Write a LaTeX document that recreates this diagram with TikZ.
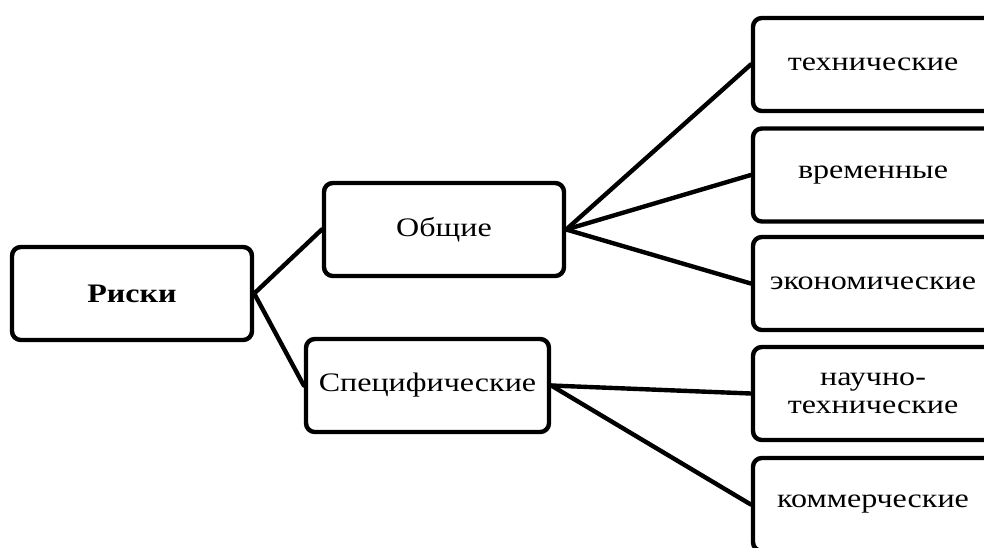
\documentclass[tikz,border=0pt]{standalone}
\usepackage{fontspec}
\setmainfont{Liberation Serif}
\newfontfamily\widefont[FakeStretch=1.2]{Liberation Serif}
\usepackage{tikz}

\tikzset{
  riskbox/.style={draw, line width=0.11cm, rounded corners=0.22cm,
    minimum width=240*0.025cm, minimum height=93*0.025cm, inner sep=0pt,
    align=center, font=\widefont\fontsize{19}{20}\selectfont},
  link/.style={line width=0.11cm}
}

\begin{document}
\begin{tikzpicture}[x=0.025cm, y=-0.025cm, line join=round, line cap=round]
      \clip (0,0) rectangle (984,547);
      \def\rx{873}
      % left and middle column
      \node[riskbox, font=\widefont\fontsize{19}{20}\selectfont\bfseries] (risks) at (132,293.5) {Риски};
      \node[riskbox] (common) at (444,229.5) {Общие};
      \node[riskbox, minimum width=243*0.025cm] (specific) at (427.5,385.5) {Специфические};
      % right column
      \node[riskbox] (tech) at (\rx,64.5) {технические};
      \node[riskbox] (time) at (\rx,175) {временные};
      \node[riskbox] (econ) at (\rx,283.5) {экономические};
      \node[riskbox] (sci) at (\rx,393.5) {научно-\\технические};
      \node[riskbox] (comm) at (\rx,504.5) {коммерческие};
      \draw[link] (risks.east) -- (common.west);
      \draw[link] (risks.east) -- (specific.west);
      \foreach \t in {tech, time, econ}
        \draw[link] (common.east) -- (\t.west);
      \foreach \t in {sci, comm}
        \draw[link] (specific.east) -- (\t.west);
    \end{tikzpicture}
\end{document}
